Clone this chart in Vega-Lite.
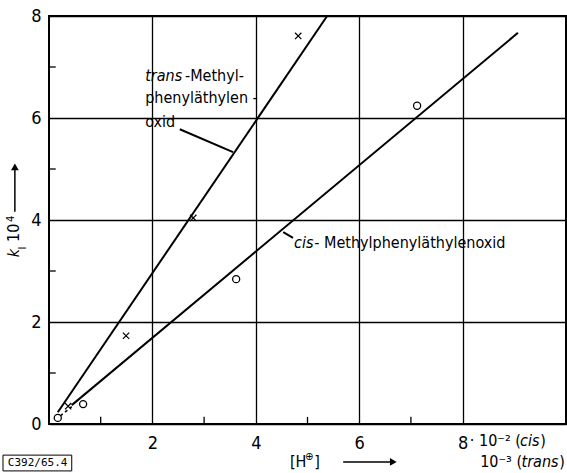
{
  "$schema": "https://vega.github.io/schema/vega-lite/v6.json",
  "width": 517,
  "height": 408,
  "autosize": {"type": "none"},
  "padding": {"left": 49, "top": 16, "right": 1, "bottom": 49},
  "background": "white",
  "config": {
    "view": {"stroke": "black", "strokeWidth": 2},
    "font": "DejaVu Sans Condensed, sans-serif"
  },
  "datasets": {
    "pts": [
      {"series": "trans", "x": 0.37, "y": 0.35},
      {"series": "trans", "x": 1.49, "y": 1.73},
      {"series": "trans", "x": 2.79, "y": 4.04},
      {"series": "trans", "x": 4.82, "y": 7.61},
      {"series": "cis", "x": 0.17, "y": 0.12},
      {"series": "cis", "x": 0.66, "y": 0.39},
      {"series": "cis", "x": 3.62, "y": 2.84},
      {"series": "cis", "x": 7.12, "y": 6.24}
    ],
    "fits": [
      {"series": "trans", "x": 0.17, "y": 0.23},
      {"series": "trans", "x": 5.38, "y": 8.0},
      {"series": "cis", "x": 0.44, "y": 0.37},
      {"series": "cis", "x": 9.07, "y": 7.67},
      {"series": "transLeader", "x": 2.53, "y": 5.78},
      {"series": "transLeader", "x": 3.56, "y": 5.33},
      {"series": "cisLeader", "x": 4.53, "y": 3.76},
      {"series": "cisLeader", "x": 4.72, "y": 3.65}
    ],
    "dashes": [
      {"series": "ext", "x": 0.22, "y": 0.16},
      {"series": "ext", "x": 0.44, "y": 0.34}
    ],
    "minorTicks": [
      {"x": 1, "x2": 1, "y": 0, "y2": 0.14},
      {"x": 3, "x2": 3, "y": 0, "y2": 0.14},
      {"x": 5, "x2": 5, "y": 0, "y2": 0.14},
      {"x": 7, "x2": 7, "y": 0, "y2": 0.14},
      {"x": 0, "x2": 0.13, "y": 1, "y2": 1},
      {"x": 0, "x2": 0.13, "y": 3, "y2": 3},
      {"x": 0, "x2": 0.13, "y": 5, "y2": 5},
      {"x": 0, "x2": 0.13, "y": 7, "y2": 7}
    ],
    "arrows": [
      {"x": 5.69, "x2": 6.6, "y": -0.745, "y2": -0.745},
      {"x": -0.66, "x2": -0.66, "y": 4.16, "y2": 4.98}
    ],
    "arrowRight": [{"x": 6.66, "y": -0.745}],
    "arrowUp": [{"x": -0.66, "y": 5.04}],
    "textNormal": [
      {"label": "-Methyl-", "x": 2.63, "y": 6.82},
      {"label": "phenyläthylen -", "x": 1.86, "y": 6.39},
      {"label": "oxid", "x": 1.86, "y": 5.92},
      {"label": "- Methylphenyläthylenoxid", "x": 5.13, "y": 3.55},
      {"label": "· 10⁻² (", "x": 8.14, "y": -0.34},
      {"label": ")", "x": 9.5, "y": -0.34},
      {"label": "10⁻³ (", "x": 8.34, "y": -0.745},
      {"label": ")", "x": 9.87, "y": -0.745},
      {"label": "[H", "x": 4.66, "y": -0.745},
      {"label": "]", "x": 5.13, "y": -0.745}
    ],
    "textItalic": [
      {"label": "trans", "x": 1.86, "y": 6.82},
      {"label": "cis", "x": 4.74, "y": 3.55},
      {"label": "cis", "x": 9.11, "y": -0.34},
      {"label": "trans", "x": 9.14, "y": -0.745}
    ],
    "textSmall": [
      {"label": "⊕", "x": 4.95, "y": -0.65}
    ],
    "rotNormal": [
      {"label": "10", "x": -0.67, "y": 3.57}
    ],
    "rotItalic": [
      {"label": "k", "x": -0.68, "y": 3.27}
    ],
    "rotSmall": [
      {"label": "I", "x": -0.51, "y": 3.42},
      {"label": "4", "x": -0.73, "y": 3.96}
    ],
    "stampBox": [{"x": -0.89, "x2": 0.44, "y": -0.61, "y2": -0.92}],
    "stampText": [{"label": "C392/65.4", "x": -0.22, "y": -0.765}]
  },
  "encoding": {
    "x": {
      "field": "x",
      "type": "quantitative",
      "scale": {"domain": [0, 10], "nice": false, "zero": false},
      "axis": {
        "values": [2, 4, 6, 8],
        "grid": true,
        "gridColor": "black",
        "gridWidth": 1.3,
        "gridOpacity": 1,
        "domain": false,
        "ticks": false,
        "labelFontSize": 18,
        "labelColor": "black",
        "labelPadding": 10,
        "title": null
      }
    },
    "y": {
      "field": "y",
      "type": "quantitative",
      "scale": {"domain": [0, 8], "nice": false, "zero": false},
      "axis": {
        "values": [0, 2, 4, 6, 8],
        "grid": true,
        "gridColor": "black",
        "gridWidth": 1.3,
        "gridOpacity": 1,
        "domain": false,
        "ticks": false,
        "labelFontSize": 18,
        "labelColor": "black",
        "labelPadding": 8,
        "title": null
      }
    }
  },
  "layer": [
    {
      "data": {"name": "minorTicks"},
      "mark": {"type": "rule", "color": "black", "strokeWidth": 1.3},
      "encoding": {"x2": {"field": "x2"}, "y2": {"field": "y2"}}
    },
    {
      "data": {"name": "fits"},
      "mark": {"type": "line", "color": "black", "strokeWidth": 2},
      "encoding": {"detail": {"field": "series"}}
    },
    {
      "data": {"name": "dashes"},
      "mark": {"type": "line", "color": "black", "strokeWidth": 1.5, "strokeDash": [3, 3]},
      "encoding": {"detail": {"field": "series"}}
    },
    {
      "data": {"name": "pts"},
      "transform": [{"filter": "datum.series == 'cis'"}],
      "mark": {"type": "point", "shape": "circle", "filled": false, "stroke": "black", "strokeWidth": 1.3, "size": 50, "opacity": 1}
    },
    {
      "data": {"name": "pts"},
      "transform": [{"filter": "datum.series == 'trans'"}],
      "mark": {"type": "point", "shape": "M-1,-1L1,1M-1,1L1,-1", "filled": false, "stroke": "black", "strokeWidth": 1.2, "size": 40, "opacity": 1}
    },
    {
      "data": {"name": "arrows"},
      "mark": {"type": "rule", "color": "black", "strokeWidth": 1.5},
      "encoding": {"x2": {"field": "x2"}, "y2": {"field": "y2"}}
    },
    {
      "data": {"name": "arrowRight"},
      "mark": {"type": "point", "shape": "triangle-right", "filled": true, "color": "black", "size": 60, "opacity": 1}
    },
    {
      "data": {"name": "arrowUp"},
      "mark": {"type": "point", "shape": "triangle-up", "filled": true, "color": "black", "size": 60, "opacity": 1}
    },
    {
      "data": {"name": "textNormal"},
      "mark": {"type": "text", "align": "left", "baseline": "middle", "fontSize": 16, "color": "black"},
      "encoding": {"text": {"field": "label"}}
    },
    {
      "data": {"name": "textItalic"},
      "mark": {"type": "text", "align": "left", "baseline": "middle", "fontSize": 16, "fontStyle": "italic", "color": "black"},
      "encoding": {"text": {"field": "label"}}
    },
    {
      "data": {"name": "textSmall"},
      "mark": {"type": "text", "align": "left", "baseline": "middle", "fontSize": 11, "color": "black"},
      "encoding": {"text": {"field": "label"}}
    },
    {
      "data": {"name": "rotNormal"},
      "mark": {"type": "text", "align": "left", "baseline": "middle", "fontSize": 16, "angle": 270, "color": "black"},
      "encoding": {"text": {"field": "label"}}
    },
    {
      "data": {"name": "rotItalic"},
      "mark": {"type": "text", "align": "left", "baseline": "middle", "fontSize": 16, "fontStyle": "italic", "angle": 270, "color": "black"},
      "encoding": {"text": {"field": "label"}}
    },
    {
      "data": {"name": "rotSmall"},
      "mark": {"type": "text", "align": "left", "baseline": "middle", "fontSize": 11, "angle": 270, "color": "black"},
      "encoding": {"text": {"field": "label"}}
    },
    {
      "data": {"name": "stampBox"},
      "mark": {"type": "rect", "fill": null, "stroke": "black", "strokeWidth": 1},
      "encoding": {"x2": {"field": "x2"}, "y2": {"field": "y2"}}
    },
    {
      "data": {"name": "stampText"},
      "mark": {"type": "text", "align": "center", "baseline": "middle", "fontSize": 11, "font": "DejaVu Sans Mono", "color": "black"},
      "encoding": {"text": {"field": "label"}}
    }
  ]
}
